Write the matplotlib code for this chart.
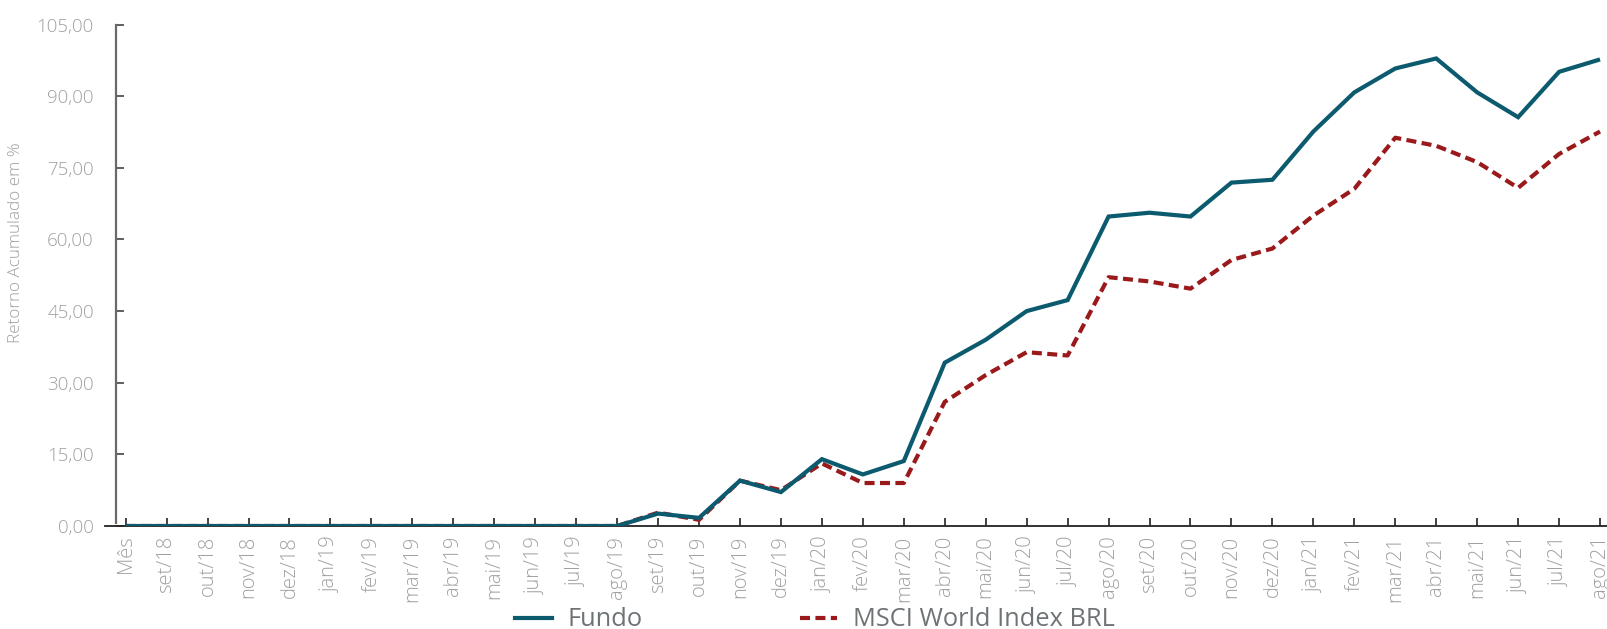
import matplotlib
matplotlib.use("Agg")
import matplotlib.pyplot as plt
from matplotlib.lines import Line2D
from matplotlib.ticker import FixedLocator, FuncFormatter

# Monthly categories (first slot is the header cell "Mês")
months = [
    "Mês", "set/18", "out/18", "nov/18", "dez/18", "jan/19", "fev/19",
    "mar/19", "abr/19", "mai/19", "jun/19", "jul/19", "ago/19", "set/19",
    "out/19", "nov/19", "dez/19", "jan/20", "fev/20", "mar/20", "abr/20",
    "mai/20", "jun/20", "jul/20", "ago/20", "set/20", "out/20", "nov/20",
    "dez/20", "jan/21", "fev/21", "mar/21", "abr/21", "mai/21", "jun/21",
    "jul/21", "ago/21",
]

# Cumulative return (%)
fundo = [
    0.0, 0.0, 0.0, 0.0, 0.0, 0.0, 0.0, 0.0, 0.0, 0.0, 0.0, 0.0, 0.0,
    2.6, 1.7, 9.5, 7.1, 14.0, 10.8, 13.6, 34.2, 39.0, 45.0, 47.3,
    64.8, 65.6, 64.8, 71.9, 72.5, 82.6, 90.8, 95.8, 97.9, 90.8, 85.6,
    95.1, 97.7,
]
msci = [
    0.0, 0.0, 0.0, 0.0, 0.0, 0.0, 0.0, 0.0, 0.0, 0.0, 0.0, 0.0, 0.0,
    2.8, 1.3, 9.5, 7.5, 13.1, 9.0, 9.0, 26.0, 31.6, 36.4, 35.7,
    52.1, 51.2, 49.7, 55.7, 58.1, 65.0, 70.6, 81.3, 79.6, 76.2, 70.8,
    77.9, 82.6,
]

y_ticks = [0, 15, 30, 45, 60, 75, 90, 105]

series_names = ["Fundo", "MSCI World Index BRL"]
fundo_color = "#0b5a6e"
msci_color = "#9a1a1c"
tick_gray = "#a0a0a0"
legend_gray = "#6e7376"

plt.rcParams["font.family"] = ["Open Sans", "DejaVu Sans"]

W, H = 1607, 629
fig = plt.figure(figsize=(W / 100, H / 100), dpi=100)
ax = fig.add_axes([105 / W, (H - 526) / H, 1 - 105 / W, (526 - 15) / H])

x = list(range(len(months)))
ax.plot(x, fundo, color=fundo_color, lw=3.0, solid_joinstyle="miter",
        solid_capstyle="butt", zorder=3)
ax.plot(x, msci, color=msci_color, lw=3.0, dashes=(2.4, 1.3),
        dash_capstyle="butt", zorder=2)

ax.set_xlim(-0.505, 36.17)
ax.set_ylim(0, 107)

for s in ("top", "right"):
    ax.spines[s].set_visible(False)
ax.spines["left"].set_position(("data", -0.237))
ax.spines["left"].set_bounds(0.6, 105)
ax.spines["left"].set_color("#6a6a6a")
ax.spines["left"].set_linewidth(1.6)
ax.spines["bottom"].set_color("#222222")
ax.spines["bottom"].set_linewidth(1.3)

ax.yaxis.set_major_locator(FixedLocator(y_ticks))
ax.yaxis.set_major_formatter(
    FuncFormatter(lambda v, p: f"{v:.2f}".replace(".", ",")))
ax.tick_params(axis="y", direction="in", length=6, width=1.2,
               color="#444444", labelcolor=tick_gray, labelsize=13.5,
               pad=16)

ax.set_xticks(x)
ax.set_xticklabels(months, rotation=90, ha="center", va="top")
ax.tick_params(axis="x", direction="in", length=6, width=1.2,
               color="#222222", labelcolor=tick_gray, labelsize=14.5,
               pad=7)
for lab in ax.get_xticklabels() + ax.get_yticklabels():
    lab.set_fontweight("light")

fig.text(16 / W, 1 - 243 / H, "Retorno Acumulado em %", rotation=90,
         ha="center", va="center", color=tick_gray, fontsize=12.3,
         fontweight="light")

handles = [
    Line2D([], [], color=fundo_color, lw=3.0),
    Line2D([], [], color=msci_color, lw=3.0, dashes=(2.4, 1.3)),
]
fig.legend(handles, series_names, loc="center left",
           bbox_to_anchor=(515 / W, 1 - 620 / H), ncol=2, frameon=False,
           fontsize=18.3, labelcolor=legend_gray, handlelength=1.45,
           handletextpad=0.62, columnspacing=6.2, borderpad=0,
           borderaxespad=0)

fig.savefig("out.png", dpi=100)
